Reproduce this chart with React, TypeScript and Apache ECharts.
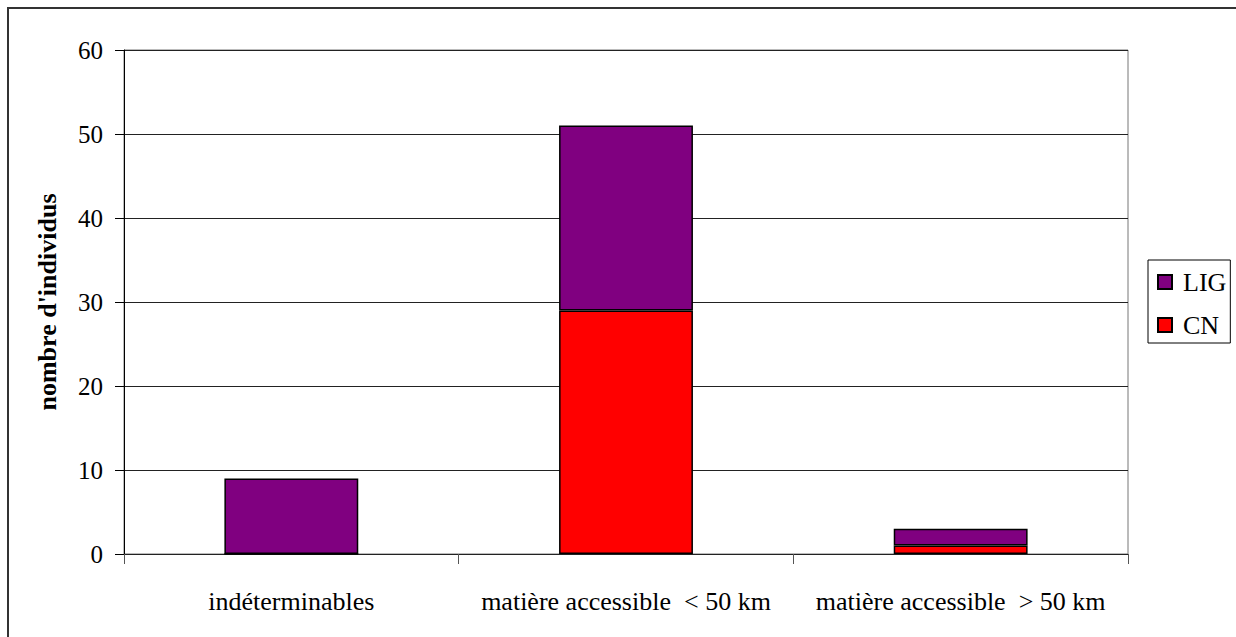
import React, { useEffect, useRef } from "react";
import * as echarts from "echarts";

const categories = [
  "indéterminables",
  "matière accessible  < 50 km",
  "matière accessible  > 50 km",
];
const cnValues = [0, 29, 1];
const ligValues = [9, 22, 2];
const yTicks = { min: 0, max: 60, interval: 10 };

const FONT = '"Liberation Serif", "Times New Roman", serif';

export default function App() {
  const ref = useRef<HTMLDivElement>(null);
  useEffect(() => {
    if (!ref.current) return;
    const chart = echarts.init(ref.current, undefined, { renderer: "svg" });
    chart.setOption({
      animation: false,
      backgroundColor: "#fff",
      textStyle: { fontFamily: FONT, color: "#000" },
      graphic: [
        {
          type: "rect",
          shape: { x: 8, y: 8, width: 1240, height: 640 },
          style: { fill: "none", stroke: "#333", lineWidth: 2 },
          silent: true,
        },
      ],
      grid: {
        left: 124,
        top: 50,
        right: 108,
        bottom: 83,
        show: true,
        borderColor: "#777",
        borderWidth: 1,
        backgroundColor: "transparent",
      },
      legend: {
        data: ["LIG", "CN"],
        orient: "vertical",
        left: 1148,
        top: 260,
        borderColor: "#000",
        borderWidth: 1,
        padding: [9, 4, 5, 9],
        itemGap: 17,
        itemWidth: 14,
        itemHeight: 14,
        icon: "rect",
        textStyle: {
          fontFamily: FONT,
          fontSize: 26,
          color: "#000",
          padding: [0, 0, 0, 6],
        },
      },
      xAxis: {
        type: "category",
        data: categories,
        axisLine: { show: true, lineStyle: { color: "#222", width: 1 } },
        axisTick: {
          show: true,
          alignWithLabel: false,
          length: 10,
          lineStyle: { color: "#555" },
        },
        axisLabel: {
          fontFamily: FONT,
          fontSize: 26,
          color: "#000",
          margin: 34,
          interval: 0,
        },
      },
      yAxis: {
        type: "value",
        min: yTicks.min,
        max: yTicks.max,
        interval: yTicks.interval,
        name: "nombre d'individus",
        nameLocation: "middle",
        nameRotate: 90,
        nameGap: 64,
        nameTextStyle: {
          fontFamily: FONT,
          fontSize: 26,
          fontWeight: "bold",
          color: "#000",
        },
        axisLine: { show: true, lineStyle: { color: "#000", width: 1 } },
        axisTick: { show: true, length: 9, lineStyle: { color: "#000" } },
        axisLabel: {
          fontFamily: FONT,
          fontSize: 25,
          color: "#000",
          margin: 21,
        },
        splitLine: { show: true, lineStyle: { color: "#222", width: 1 } },
      },
      series: [
        {
          name: "CN",
          type: "bar",
          stack: "total",
          data: cnValues,
          barCategoryGap: "60%",
          itemStyle: { color: "#FF0000", borderColor: "#000", borderWidth: 1.5 },
        },
        {
          name: "LIG",
          type: "bar",
          stack: "total",
          data: ligValues,
          barCategoryGap: "60%",
          itemStyle: { color: "#800080", borderColor: "#000", borderWidth: 1.5 },
        },
      ],
    });
    return () => chart.dispose();
  }, []);
  return (
    <div
      ref={ref}
      style={{ position: "fixed", left: 0, top: 0, width: 1236, height: 637 }}
    />
  );
}
